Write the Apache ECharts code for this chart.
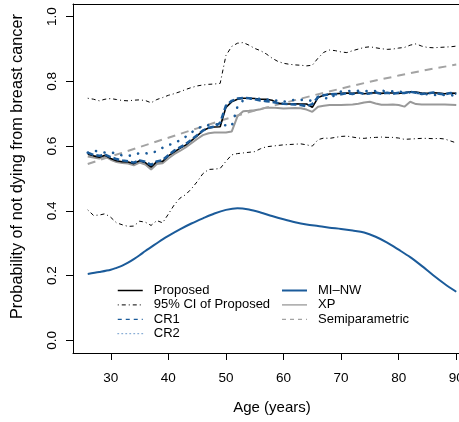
<!DOCTYPE html>
<html>
<head>
<meta charset="utf-8">
<script src="https://cdn.jsdelivr.net/npm/echarts@6/dist/echarts.min.js"></script>
<style>
html,body{margin:0;padding:0;background:#fff;}
#chart{width:459px;height:422px;}
</style>
</head>
<body>
<div id="chart"></div>
<script>
// ---- data ----
const ages = [26,27,28,29,30,31,32,33,34,35,36,37,38,39,40,41,42,43,44,45,46,47,48,49,50,51,52,53,54,55,56,57,58,59,60,61,62,63,64,65,66,67,68,69,70,71,72,73,74,75,76,77,78,79,80,81,82,83,84,85,86,87,88,89,90];
const proposed = [0.575,0.570,0.566,0.572,0.562,0.555,0.552,0.551,0.546,0.555,0.549,0.535,0.552,0.553,0.570,0.582,0.593,0.603,0.617,0.632,0.648,0.656,0.659,0.660,0.720,0.737,0.745,0.748,0.748,0.747,0.745,0.745,0.742,0.733,0.730,0.730,0.731,0.730,0.730,0.720,0.750,0.757,0.761,0.762,0.763,0.764,0.763,0.765,0.762,0.764,0.765,0.763,0.765,0.764,0.763,0.765,0.768,0.767,0.764,0.763,0.765,0.764,0.762,0.764,0.763];
const ciUpper = [0.748,0.745,0.740,0.745,0.747,0.744,0.741,0.740,0.742,0.743,0.741,0.734,0.744,0.750,0.757,0.762,0.768,0.775,0.781,0.786,0.789,0.791,0.792,0.794,0.880,0.908,0.918,0.920,0.912,0.902,0.895,0.885,0.872,0.862,0.856,0.853,0.851,0.850,0.848,0.850,0.872,0.890,0.897,0.895,0.891,0.889,0.895,0.900,0.905,0.907,0.904,0.901,0.899,0.900,0.903,0.905,0.912,0.916,0.909,0.905,0.904,0.905,0.906,0.907,0.909];
const ciLower = [0.403,0.386,0.387,0.391,0.380,0.363,0.357,0.352,0.353,0.368,0.365,0.355,0.370,0.363,0.390,0.418,0.439,0.450,0.468,0.490,0.515,0.528,0.529,0.531,0.553,0.573,0.577,0.579,0.581,0.583,0.592,0.598,0.600,0.602,0.604,0.605,0.606,0.607,0.604,0.600,0.620,0.625,0.624,0.627,0.630,0.631,0.628,0.625,0.624,0.626,0.627,0.628,0.627,0.627,0.625,0.621,0.622,0.623,0.624,0.624,0.623,0.624,0.622,0.616,0.610];
const cr1 = [0.580,0.573,0.570,0.574,0.566,0.560,0.556,0.553,0.549,0.556,0.552,0.542,0.553,0.557,0.572,0.586,0.596,0.606,0.620,0.634,0.648,0.657,0.660,0.672,0.725,0.740,0.747,0.749,0.748,0.745,0.741,0.739,0.737,0.733,0.731,0.730,0.729,0.727,0.723,0.730,0.752,0.757,0.760,0.761,0.760,0.764,0.761,0.766,0.761,0.763,0.766,0.762,0.765,0.762,0.765,0.764,0.768,0.765,0.761,0.763,0.766,0.762,0.760,0.764,0.762];
const cr2 = [0.580,0.586,0.583,0.580,0.580,0.578,0.571,0.570,0.572,0.579,0.578,0.577,0.585,0.595,0.603,0.609,0.618,0.629,0.642,0.654,0.662,0.665,0.667,0.668,0.664,0.662,0.722,0.742,0.746,0.748,0.746,0.744,0.743,0.740,0.737,0.741,0.743,0.743,0.742,0.740,0.752,0.750,0.745,0.760,0.769,0.771,0.770,0.771,0.770,0.771,0.770,0.771,0.770,0.769,0.768,0.767,0.766,0.765,0.762,0.760,0.758,0.758,0.758,0.757,0.757];
const xp = [0.568,0.565,0.562,0.568,0.558,0.551,0.548,0.546,0.541,0.549,0.543,0.528,0.545,0.547,0.562,0.575,0.585,0.596,0.609,0.622,0.634,0.640,0.642,0.642,0.642,0.645,0.692,0.708,0.709,0.711,0.714,0.719,0.719,0.718,0.716,0.717,0.718,0.717,0.713,0.706,0.722,0.725,0.727,0.727,0.727,0.728,0.729,0.731,0.735,0.737,0.732,0.728,0.728,0.729,0.727,0.722,0.737,0.730,0.729,0.729,0.729,0.729,0.729,0.728,0.727];
const semiAges = [26,30,35,40,45,50,55,60,65,70,75,80,85,90];
const semiparametric = [0.545,0.568,0.597,0.626,0.655,0.684,0.710,0.733,0.756,0.778,0.799,0.818,0.836,0.852];
const miAges = [26,28,30,31,32,33,34,35,36,37,38,39,40,42,44,46,48,50,52,54,56,58,60,62,64,66,68,70,72,74,76,78,80,82,84,86,88,90];
const miNW = [0.205,0.211,0.218,0.224,0.231,0.240,0.251,0.263,0.276,0.288,0.300,0.312,0.323,0.343,0.361,0.377,0.392,0.403,0.408,0.404,0.395,0.384,0.374,0.365,0.358,0.353,0.348,0.344,0.339,0.333,0.320,0.302,0.280,0.257,0.230,0.201,0.174,0.150];
const xTicks = [30,40,50,60,70,80,90];
const yTicks = [0,0.2,0.4,0.6,0.8,1.0];

const pairs = (xs, ys) => xs.map((x, i) => [x, ys[i]]);
const BLUE = '#1b5b9a';
const FONT = '"Liberation Sans", Arial, Helvetica, sans-serif';
const X_MIN = 23.44, X_MAX = 92.56;

const chart = echarts.init(document.getElementById('chart'), null, {renderer: 'canvas'});
const line = (name, data, style, z) => ({
  name, type: 'line', data, symbol: 'none', showSymbol: false, smooth: false,
  lineStyle: style, itemStyle: {color: style.color}, z: z || 2, animation: false, emphasis: {disabled: true}, silent: true
});
const legendBase = {
  orient: 'vertical', padding: 0, itemWidth: 25, itemHeight: 14, itemGap: 1.4, top: 284,
  textStyle: {fontSize: 13, color: '#000', fontFamily: FONT, padding: [0,0,0,6]},
  itemStyle: {color: 'rgba(0,0,0,0)', borderColor: 'rgba(0,0,0,0)', borderWidth: 0, opacity: 0},
  selectedMode: false
};

chart.setOption({
  animation: false,
  textStyle: {fontFamily: FONT},
  grid: {left: 73, top: 4, right: -12, bottom: 69, outerBoundsMode: 'none', containLabel: false},
  xAxis: [{
    type: 'value', min: X_MIN, max: X_MAX,
    axisLine: {show: true, onZero: false, lineStyle: {color: '#000', width: 1}},
    axisTick: {show: true, customValues: xTicks, length: 7, lineStyle: {color: '#000'}},
    axisLabel: {customValues: xTicks, fontSize: 13.5, color: '#000', margin: 18, fontFamily: FONT},
    splitLine: {show: false},
    name: 'Age (years)', nameLocation: 'middle', nameGap: 47,
    nameTextStyle: {fontSize: 15, color: '#000', fontFamily: FONT}
  }, {
    type: 'value', position: 'top', min: X_MIN, max: X_MAX,
    axisLine: {show: true, onZero: false, lineStyle: {color: '#000', width: 1}},
    axisTick: {show: false}, axisLabel: {show: false}, splitLine: {show: false}
  }],
  yAxis: {
    type: 'value', min: -0.0392, max: 1.0392,
    axisLine: {show: true, onZero: false, lineStyle: {color: '#000', width: 1}},
    axisTick: {show: true, customValues: yTicks, length: 7, lineStyle: {color: '#000'}},
    axisLabel: {customValues: yTicks, rotate: 90, fontSize: 13.5, color: '#000', margin: 14, fontFamily: FONT,
      formatter: v => v.toFixed(1)},
    splitLine: {show: false},
    name: 'Probability of not dying from breast cancer', nameLocation: 'middle', nameGap: 47, nameRotate: 90,
    nameTextStyle: {fontSize: 16.3, color: '#000', fontFamily: FONT, padding: [0,0,0,24]}
  },
  legend: [
    Object.assign({}, legendBase, {
      left: 117,
      data: [
        {name: 'Proposed', lineStyle: {width: 1.5}},
        {name: '95% CI of Proposed', lineStyle: {width: 1}},
        {name: 'CR1', lineStyle: {width: 1.3, type: [4,4]}},
        {name: 'CR2', lineStyle: {width: 1, type: [1,3], color: '#6f9ccc'}}
      ]
    }),
    Object.assign({}, legendBase, {
      left: 281,
      data: [
        {name: 'MI\u2013NW', lineStyle: {width: 2}},
        {name: 'XP', lineStyle: {width: 1.3}},
        {name: 'Semiparametric', lineStyle: {width: 1.3, type: [4,4]}}
      ]
    })
  ],
  series: [
    line('XP', pairs(ages, xp), {color: '#999999', width: 2}, 2),
    line('Semiparametric', pairs(semiAges, semiparametric), {color: '#a3a3a3', width: 2, type: [8,6]}, 2),
    line('Proposed', pairs(ages, proposed), {color: '#000000', width: 1.6}, 3),
    line('CR1', pairs(ages, cr1), {color: BLUE, width: 2.5, type: [6,3]}, 4),
    line('CR2', pairs(ages, cr2), {color: BLUE, width: 2.6, type: [0.1, 8.5], cap: 'round'}, 4),
    line('95% CI of Proposed', pairs(ages, ciUpper), {color: '#000000', width: 1, type: [1,3,4,3]}, 3),
    line('95% CI of Proposed', pairs(ages, ciLower), {color: '#000000', width: 1, type: [1,3,4,3]}, 3),
    Object.assign(line('MI\u2013NW', pairs(miAges, miNW), {color: BLUE, width: 2}, 3), {smooth: 0.3})
  ]
});
</script>
</body>
</html>
